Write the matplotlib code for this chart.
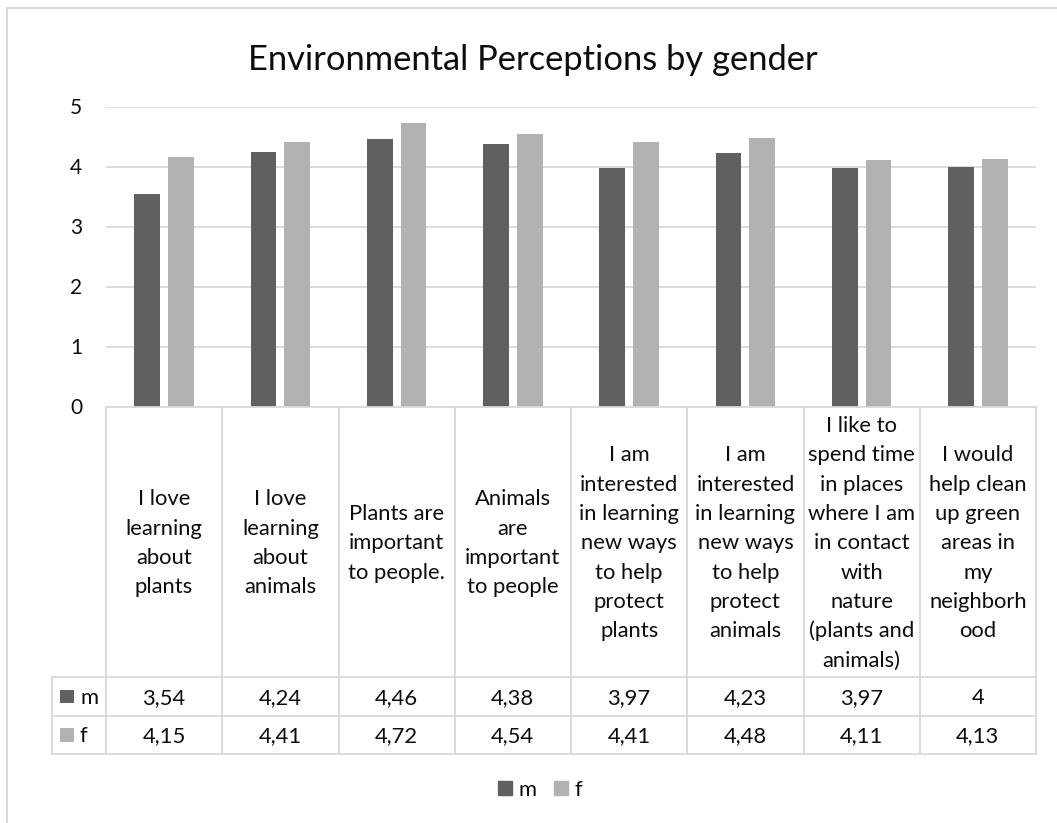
import matplotlib
matplotlib.use("Agg")
import matplotlib.pyplot as plt
from matplotlib.patches import Rectangle
from matplotlib.lines import Line2D
from matplotlib.transforms import blended_transform_factory

# ---- data ----
categories = [
    ["I love", "learning", "about", "plants"],
    ["I love", "learning", "about", "animals"],
    ["Plants are", "important", "to people."],
    ["Animals", "are", "important", "to people"],
    ["I am", "interested", "in learning", "new ways", "to help", "protect", "plants"],
    ["I am", "interested", "in learning", "new ways", "to help", "protect", "animals"],
    ["I like to", "spend time", "in places", "where I am", "in contact", "with",
     "nature", "(plants and", "animals)"],
    ["I would", "help clean", "up green", "areas in", "my", "neighborh", "ood"],
]
series_names = ["m", "f"]
m_values = [3.54, 4.24, 4.46, 4.38, 3.97, 4.23, 3.97, 4.00]
f_values = [4.15, 4.41, 4.72, 4.54, 4.41, 4.48, 4.11, 4.13]
y_ticks = [0, 1, 2, 3, 4, 5]
title = "Environmental Perceptions by gender"

# ---- style ----
W, H = 1057, 823
C_M = "#606060"
C_F = "#B2B2B2"
GRID = "#D9D9D9"
TXT = "#0d0d0d"
FONT = "Lato"
FS = 15.8
plt.rcParams["font.family"] = [FONT, "DejaVu Sans"]

def fx(px):
    return px / W

def fy(py):
    return 1 - py / H

fig = plt.figure(figsize=(W / 100, H / 100), dpi=100)

# chart frame (top and left edges)
fig.add_artist(Line2D([fx(7), fx(W)], [fy(8), fy(8)], color=GRID, lw=1.3))
fig.add_artist(Line2D([fx(7), fx(7)], [fy(8), fy(H)], color=GRID, lw=1.3))

fig.text(fx(533), fy(70), title, ha="center", va="baseline",
         fontsize=24.8, color=TXT)

ax_left, ax_right, ax_top, ax_bot = 106, 1036, 106.5, 406.5
ax = fig.add_axes([fx(ax_left), fy(ax_bot), fx(ax_right - ax_left),
                   (ax_bot - ax_top) / H])
n = len(categories)
x = list(range(n))
bw = 0.222
off = 0.145
ax.bar([i - off for i in x], m_values, width=bw, color=C_M, zorder=3)
ax.bar([i + off for i in x], f_values, width=bw, color=C_F, zorder=3)
ax.set_xlim(-0.5, n - 0.5)
ax.set_ylim(0, 5)
ax.set_yticks(y_ticks)
ax.set_yticklabels([str(t) for t in y_ticks], fontsize=15, color=TXT)
ax.tick_params(axis="y", length=0, pad=17)
ax.set_xticks([])
for s in ax.spines.values():
    s.set_visible(False)
ax.yaxis.grid(True, color=GRID, lw=1.3, zorder=0)
ax.set_axisbelow(True)
ax.patch.set_alpha(0)

# ---- data table under the axis ----
tr = blended_transform_factory(ax.transData, fig.transFigure)
head_top, head_bot = 406.5, 677
row_m_bot, row_f_bot = 716, 754
key_left = 52

# vertical column borders
for b in [i - 0.5 for i in range(n + 1)]:
    fig.add_artist(Line2D([b, b], [fy(head_top), fy(row_f_bot)], color=GRID,
                          lw=1.3, transform=tr, clip_on=False))
fig.add_artist(Line2D([fx(key_left)] * 2, [fy(head_bot), fy(row_f_bot)],
                      color=GRID, lw=1.3))
# horizontal borders
fig.add_artist(Line2D([-0.5, n - 0.5], [fy(head_top)] * 2, color=GRID, lw=1.3,
                      transform=tr, clip_on=False))
for yb in [head_bot, row_m_bot, row_f_bot]:
    fig.add_artist(Line2D([fx(key_left), fx(ax_right)], [fy(yb)] * 2,
                          color=GRID, lw=1.3))

# category labels
line_gap = 29.3
mid_base = (head_top + head_bot) / 2 + 7.5
for i, lines in enumerate(categories):
    k = len(lines)
    for j, ln in enumerate(lines):
        yb = mid_base + (j - (k - 1) / 2) * line_gap
        fig.text(i, fy(yb), ln, transform=tr, ha="center", va="baseline",
                 fontsize=FS, color=TXT)

def fmt(v):
    return f"{v:g}".replace(".", ",")

rows = [(series_names[0], m_values, C_M, head_bot, row_m_bot),
        (series_names[1], f_values, C_F, row_m_bot, row_f_bot)]
for name, vals, col, top, bot in rows:
    cy = (top + bot) / 2
    fig.add_artist(Rectangle((fx(60), fy(cy + 6.8)), fx(13.5), 13.5 / H,
                             color=col, lw=0))
    fig.text(fx(80), fy(cy + 7.5), name, ha="left", va="baseline",
             fontsize=FS, color=TXT)
    for i, v in enumerate(vals):
        fig.text(i, fy(cy + 7.5), fmt(v), transform=tr, ha="center",
                 va="baseline", fontsize=FS, color=TXT)

# legend
handles = [Rectangle((0, 0), 1, 1, color=C_M), Rectangle((0, 0), 1, 1, color=C_F)]
fig.legend(handles, series_names, loc="center", ncol=2, frameon=False,
           bbox_to_anchor=(fx(540), fy(790)), fontsize=FS,
           handlelength=0.62, handleheight=0.62, handletextpad=0.3,
           columnspacing=0.8, labelcolor=TXT)

fig.savefig("out.png", dpi=100)
